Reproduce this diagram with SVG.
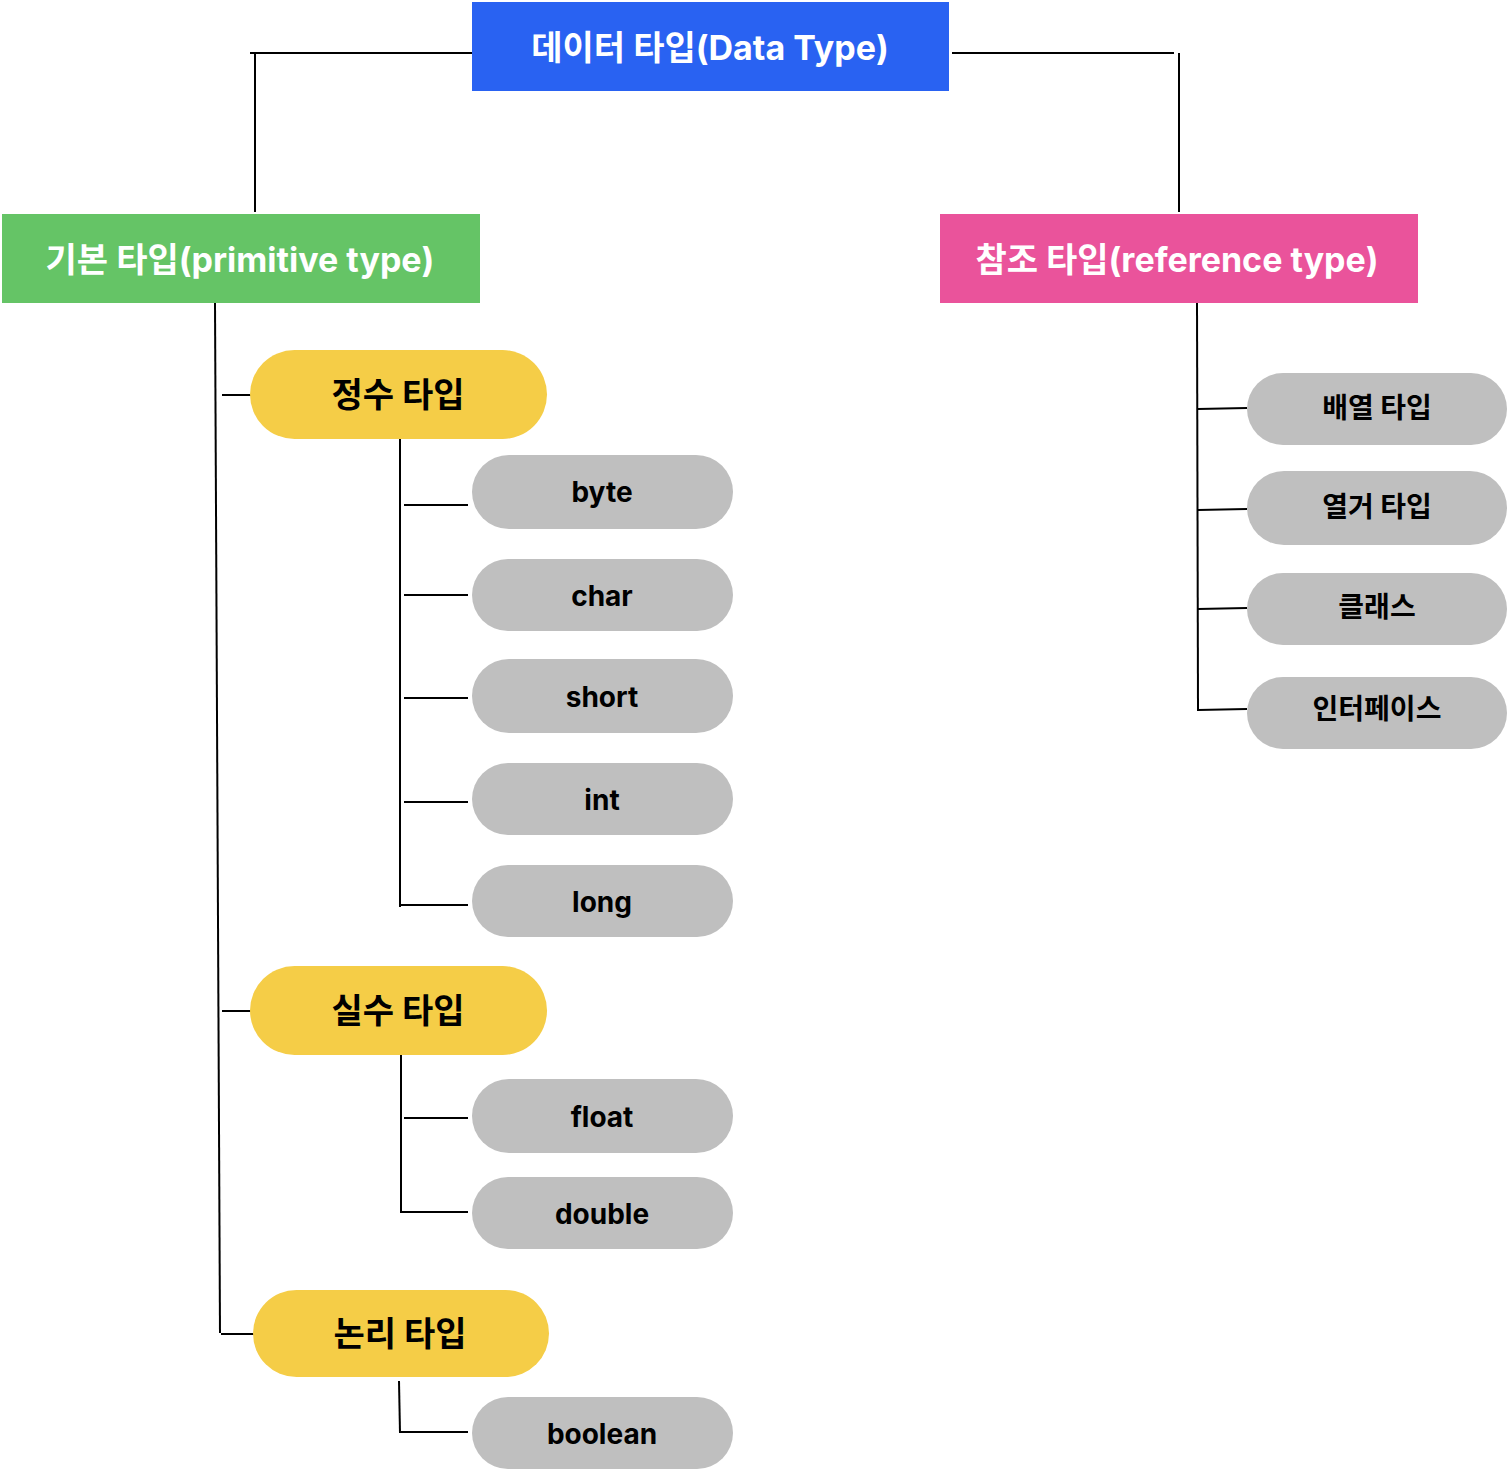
<svg xmlns="http://www.w3.org/2000/svg" width="1510" height="1472" viewBox="0 0 1510 1472">
<style>
.t{font-family:Inter,"Noto Sans CJK KR","Noto Sans",sans-serif;font-weight:700;text-anchor:middle;dominant-baseline:central}
.w{fill:#fff;font-size:34px}
.y{fill:#F5CD47}
.g{fill:#BFBFBF}
.yl{fill:#000;font-size:34px}
.gl{fill:#000;font-size:28px}
.c{stroke:#000;stroke-width:2;fill:none}
</style>
<rect width="1510" height="1472" fill="#fff"/>
<g id="connectors" class="c">
<polyline points="472,53 250,53"/>
<polyline points="255,53 255,212"/>
<polyline points="952,53 1174,53"/>
<polyline points="1179,53 1179,212"/>
<polyline points="215,303 220,1333"/>
<line x1="222" y1="395" x2="260" y2="395"/>
<line x1="222" y1="1011" x2="260" y2="1011"/>
<line x1="221" y1="1334" x2="260" y2="1334"/>
<line x1="400" y1="439" x2="400" y2="907"/>
<line x1="404" y1="505" x2="468" y2="505"/>
<line x1="404" y1="595" x2="468" y2="595"/>
<line x1="404" y1="698" x2="468" y2="698"/>
<line x1="404" y1="802" x2="468" y2="802"/>
<line x1="401" y1="905" x2="468" y2="905"/>
<line x1="401" y1="1055" x2="401" y2="1213"/>
<line x1="404" y1="1118" x2="468" y2="1118"/>
<line x1="402" y1="1212" x2="468" y2="1212"/>
<line x1="399" y1="1381" x2="400" y2="1433"/>
<line x1="401" y1="1432" x2="468" y2="1432"/>
<line x1="1197" y1="303" x2="1198" y2="711"/>
<line x1="1198" y1="409" x2="1247" y2="408"/>
<line x1="1198" y1="510" x2="1247" y2="509"/>
<line x1="1198" y1="609" x2="1247" y2="608"/>
<line x1="1198" y1="710" x2="1247" y2="709"/>
</g>
<g id="datatype"><rect x="472" y="2" width="477" height="89" fill="#2962F2"/><text class="t w" x="710" y="47">데이터 타입(Data Type)</text></g>
<g id="primitive"><rect x="2" y="214" width="478" height="89" fill="#65C466"/><text class="t w" x="240" y="259">기본 타입(primitive type)</text></g>
<g id="reference"><rect x="940" y="214" width="478" height="89" fill="#EA539B"/><text class="t w" x="1177" y="259">참조 타입(reference type)</text></g>
<g id="integer"><rect class="y" x="250" y="350" width="297" height="89" rx="44.5"/><text class="t yl" x="398" y="394">정수 타입</text></g>
<g id="real"><rect class="y" x="250" y="966" width="297" height="89" rx="44.5"/><text class="t yl" x="398" y="1010">실수 타입</text></g>
<g id="logic"><rect class="y" x="253" y="1290" width="296" height="87" rx="43.5"/><text class="t yl" x="400" y="1333">논리 타입</text></g>
<g id="byte"><rect class="g" x="472" y="455" width="261" height="74" rx="37"/><text class="t gl" x="602" y="492">byte</text></g>
<g id="char"><rect class="g" x="472" y="559" width="261" height="72" rx="36"/><text class="t gl" x="602" y="596">char</text></g>
<g id="short"><rect class="g" x="472" y="659" width="261" height="74" rx="37"/><text class="t gl" x="602" y="697">short</text></g>
<g id="int"><rect class="g" x="472" y="763" width="261" height="72" rx="36"/><text class="t gl" x="602" y="800">int</text></g>
<g id="long"><rect class="g" x="472" y="865" width="261" height="72" rx="36"/><text class="t gl" x="602" y="902">long</text></g>
<g id="float"><rect class="g" x="472" y="1079" width="261" height="74" rx="37"/><text class="t gl" x="602" y="1117">float</text></g>
<g id="double"><rect class="g" x="472" y="1177" width="261" height="72" rx="36"/><text class="t gl" x="602" y="1214">double</text></g>
<g id="boolean"><rect class="g" x="472" y="1397" width="261" height="72" rx="36"/><text class="t gl" x="602" y="1434">boolean</text></g>
<g id="array"><rect class="g" x="1247" y="373" width="260" height="72" rx="36"/><text class="t gl" x="1377" y="408">배열 타입</text></g>
<g id="enum"><rect class="g" x="1247" y="471" width="260" height="74" rx="37"/><text class="t gl" x="1377" y="507">열거 타입</text></g>
<g id="class"><rect class="g" x="1247" y="573" width="260" height="72" rx="36"/><text class="t gl" x="1377" y="607">클래스</text></g>
<g id="interface"><rect class="g" x="1247" y="677" width="260" height="72" rx="36"/><text class="t gl" x="1377" y="709">인터페이스</text></g>
</svg>
